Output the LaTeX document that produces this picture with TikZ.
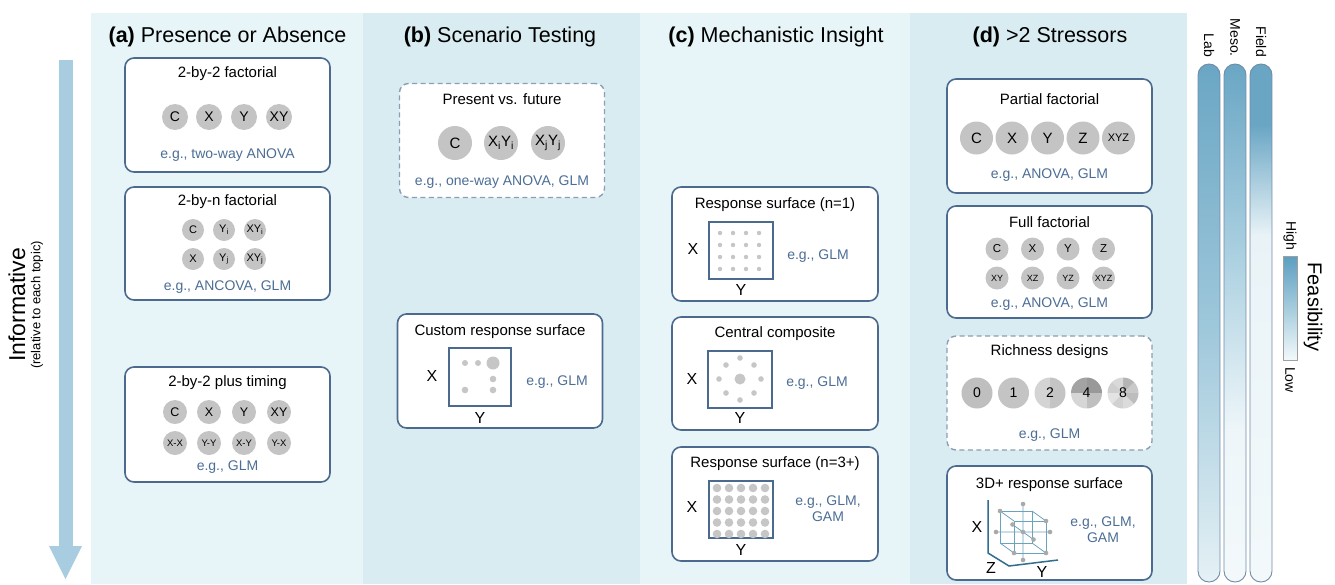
\documentclass[tikz,border=0pt]{standalone}
\usepackage{fontspec}
\setmainfont{Liberation Sans}
\newcommand\myfs[1]{\fontsize{#1}{#1}\selectfont}
\definecolor{panelL}{HTML}{E7F5F8}
\definecolor{panelD}{HTML}{D9ECF2}
\definecolor{boxc}{HTML}{4B6A8D}
\definecolor{dashc}{HTML}{8B9EB4}
\definecolor{egc}{HTML}{4C6E96}
\definecolor{circg}{HTML}{C4C4C4}
\definecolor{dotg}{HTML}{C6C6C6}
\definecolor{arrowc}{HTML}{A9CDE0}
\definecolor{cubec}{HTML}{6AA3BD}
\definecolor{axisc}{HTML}{2F6E8E}
\definecolor{barl}{HTML}{6F8BA8}
\definecolor{feasD}{HTML}{6AA6C4}
\definecolor{labM}{HTML}{9FC8DB}
\definecolor{labB}{HTML}{E5F1F5}
\definecolor{mesoM}{HTML}{A9CFE0}
\definecolor{mesoP}{HTML}{EEF6F9}
\definecolor{paleB}{HTML}{F3F9FB}
\definecolor{fieldP}{HTML}{E9F3F7}
\definecolor{legD}{HTML}{5C9EC0}
\definecolor{legM}{HTML}{A5CCDD}
\definecolor{cubedot}{HTML}{A9A9A9}
\definecolor{legline}{HTML}{A0A0A0}
\begin{document}
\begin{tikzpicture}[x=1pt,y=-1pt,
  box/.style={draw=boxc, line width=1.6pt, rounded corners=9pt, fill=white, minimum width=205pt, minimum height=114pt, inner sep=0},
  dbox/.style={draw=dashc, line width=1.4pt, dash pattern=on 5pt off 3.5pt, rounded corners=9pt, fill=white, minimum width=205pt, minimum height=114pt, inner sep=0},
  ttl/.style={font=\myfs{15}, inner sep=0},
  eg/.style={text=egc, font=\myfs{14}, inner sep=0, align=center},
  trt/.style={circle, fill=circg, inner sep=0, minimum size=#1},
  hdr/.style={font=\myfs{21.5}, inner sep=0},
  axl/.style={font=\myfs{16}, inner sep=0},
  sq/.style={draw=boxc, line width=1.6pt, fill=white, inner sep=0},
  pienum/.style={font=\myfs{14}, inner sep=0},
  barlab/.style={rotate=-90, anchor=east, font=\myfs{14}, inner sep=0}]
\useasboundingbox (0,0) rectangle (1335,584);
\fill[white] (0,0) rectangle (1335,584);
% panels
\fill[panelL] (91,13) rectangle (363,584);
\fill[panelD] (363,13) rectangle (640,584);
\fill[panelL] (640,13) rectangle (910,584);
\fill[panelD] (910,13) rectangle (1187,584);
% informative arrow
\fill[arrowc] (58.5,60) rectangle (72.5,548);
\fill[arrowc] (49,546) -- (82,546) -- (65.5,579) -- cycle;
\node[rotate=90, font=\myfs{23}, inner sep=0] (inf) at (17,305) {Informative};
\node[rotate=90, font=\myfs{13}, inner sep=0] (rel) at (37,305) {(relative to each topic)};
% headers
\node[hdr] (ha) at (227.5,37) {\textbf{(a)} Presence or Absence};
\node[hdr] (hb) at (500,37) {\textbf{(b)} Scenario Testing};
\node[hdr] (hc) at (776,37) {\textbf{(c)} Mechanistic Insight};
\node[hdr] (hd) at (1050,37) {\textbf{(d)} >2 Stressors};
% ---------- panel a
\node[box] (a1) at (227.5,115) {};
\node[ttl] (a1t) at (227.5,74) {2-by-2 factorial};
\foreach \x/\l/\n in {175/C/1,209/X/2,244/Y/3,279/XY/4}
  \node[trt=26pt, font=\myfs{14}] (a1c\n) at (\x,117) {\l};
\node[eg] (a1e) at (227.5,155) {e.g., two-way ANOVA};
\node[box, minimum height=113pt] (a2) at (227.5,243.5) {};
\node[ttl] (a2t) at (227.5,202) {2-by-n factorial};
\node[trt=22pt, font=\myfs{11}] (a2c1) at (193,230) {C};
\node[trt=22pt, font=\myfs{11}] (a2c2) at (224,230) {Y\textsubscript{i}};
\node[trt=22pt, font=\myfs{11}] (a2c3) at (255,230) {XY\textsubscript{i}};
\node[trt=22pt, font=\myfs{11}] (a2c4) at (193,259) {X};
\node[trt=22pt, font=\myfs{11}] (a2c5) at (224,259) {Y\textsubscript{j}};
\node[trt=22pt, font=\myfs{11}] (a2c6) at (255,259) {XY\textsubscript{j}};
\node[eg] (a2e) at (227.5,287) {e.g., ANCOVA, GLM};
\node[box, minimum height=115pt] (a3) at (227.5,424.5) {};
\node[ttl] (a3t) at (227.5,383) {2-by-2 plus timing};
\foreach \x/\l/\n in {175/C/1,209/X/2,244/Y/3,279/XY/4}
  \node[trt=24pt, font=\myfs{12.5}] (a3c\n) at (\x,412) {\l};
\foreach \x/\l/\n in {175/X-X/5,209/Y-Y/6,244/X-Y/7,279/Y-X/8}
  \node[trt=24pt, font=\myfs{9.5}] (a3c\n) at (\x,443) {\l};
\node[eg] (a3e) at (227.5,467) {e.g., GLM};
% ---------- panel b
\node[dbox] (b1) at (502,140.5) {};
\node[ttl] (b1t) at (502,99) {Present vs. future};
\node[trt=34pt, font=\myfs{15}] (b1c1) at (455,143) {C};
\node[trt=34pt, font=\myfs{15}] (b1c2) at (501,143) {X\textsubscript{i}Y\textsubscript{i}};
\node[trt=34pt, font=\myfs{15}] (b1c3) at (548,143) {X\textsubscript{j}Y\textsubscript{j}};
\node[eg] (b1e) at (502,182) {e.g., one-way ANOVA, GLM};
\node[box] (b2) at (500,371) {};
\node[ttl] (b2t) at (500,332) {Custom response surface};
\node[sq, minimum width=62pt, minimum height=58pt] (b2s) at (480,377) {};
\node[axl] (b2x) at (432,376) {X};
\node[axl] (b2y) at (480,418) {Y};
\fill[dotg] (465,363) circle[radius=3];
\fill[dotg] (478,363) circle[radius=3];
\fill[dotg] (493,363) circle[radius=6.5];
\fill[dotg] (493,379) circle[radius=3.3];
\fill[dotg] (465,390) circle[radius=3.3];
\fill[dotg] (493,390) circle[radius=3.3];
\node[eg] (b2e) at (557,382) {e.g., GLM};
% ---------- panel c
\node[box, minimum width=206pt] (c1) at (775,244) {};
\node[ttl] (c1t) at (775,205) {Response surface (n=1)};
\node[sq, minimum width=64pt, minimum height=57pt] (c1s) at (741,250.5) {};
\foreach \i in {720,733,746,759} \foreach \j in {233,245,257,269}
  \fill[dotg] (\i,\j) circle[radius=2.2];
\node[axl] (c1x) at (693,249) {X};
\node[axl] (c1y) at (741,290) {Y};
\node[eg] (c1e) at (818,256) {e.g., GLM};
\node[box, minimum width=206pt, minimum height=113pt] (c2) at (775,373.5) {};
\node[ttl] (c2t) at (775,334) {Central composite};
\node[sq, minimum width=64pt, minimum height=57pt] (c2s) at (740,379.5) {};
\fill[dotg] (740,379) circle[radius=5.5];
\foreach \p in {(740,358),(740,400),(719,379),(761,379),(726,365),(754,365),(726,393),(754,393)}
  \fill[dotg] \p circle[radius=2.8];
\node[axl] (c2x) at (692,379) {X};
\node[axl] (c2y) at (740,418) {Y};
\node[eg] (c2e) at (817,383) {e.g., GLM};
\node[box, minimum width=206pt] (c3) at (775,504) {};
\node[ttl] (c3t) at (775,464) {Response surface (n=3+)};
\node[sq, minimum width=64pt, minimum height=57pt] (c3s) at (741,509.5) {};
\foreach \i in {717,729,741,753,765} \foreach \j in {488,499.5,511,522.5,534}
  \fill[dotg] (\i,\j) circle[radius=4.3];
\node[axl] (c3x) at (692,507) {X};
\node[axl] (c3y) at (741,550) {Y};
\node[eg, font=\fontsize{14}{16}\selectfont] (c3e) at (828,509) {e.g., GLM,\\GAM};
% ---------- panel d
\node[box] (d1) at (1049.5,136) {};
\node[ttl] (d1t) at (1049.5,99) {Partial factorial};
\foreach \x/\l/\n in {976.5/C/1,1012/X/2,1047.5/Y/3,1083/Z/4}
  \node[trt=33pt, font=\myfs{15}] (d1c\n) at (\x,138) {\l};
\node[trt=33pt, font=\myfs{11}] (d1c5) at (1118.5,138) {XYZ};
\node[eg] (d1e) at (1049.5,175) {e.g., ANOVA, GLM};
\node[box, minimum height=112pt] (d2) at (1049.5,262) {};
\node[ttl] (d2t) at (1049.5,222) {Full factorial};
\foreach \x/\l/\n in {997/C/1,1032.5/X/2,1068/Y/3,1103.5/Z/4}
  \node[trt=23pt, font=\myfs{11.5}] (d2c\n) at (\x,249) {\l};
\foreach \x/\l/\n in {997/XY/5,1032.5/XZ/6,1068/YZ/7,1103.5/XYZ/8}
  \node[trt=23pt, font=\myfs{9}] (d2c\n) at (\x,278) {\l};
\node[eg] (d2e) at (1049.5,304) {e.g., ANOVA, GLM};
\node[dbox] (d3) at (1049.5,393) {};
\node[ttl] (d3t) at (1049.5,352) {Richness designs};
% pies
\fill[black!25] (977,393) circle[radius=15.5];
\fill[black!23] (1013.5,393) circle[radius=15.5];
\begin{scope}
\clip (1050,393) circle[radius=15.5];
\fill[black!17] (1030,370) rectangle (1050,416);
\fill[black!23] (1050,370) rectangle (1070,416);
\end{scope}
\begin{scope}
\clip (1086.5,393) circle[radius=15.5];
\fill[black!36] (1066,370) rectangle (1086.5,393);
\fill[black!40] (1086.5,370) rectangle (1107,393);
\fill[black!16] (1066,393) rectangle (1086.5,416);
\fill[black!25] (1086.5,393) rectangle (1107,416);
\end{scope}
\begin{scope}
\clip (1123,393) circle[radius=15.5];
\foreach \a/\c in {0/21,45/29,90/15,135/19,180/11,225/18,270/14,315/26}
  \fill[black!\c] (1123,393) -- +(\a:25pt) -- +(\a+45:25pt) -- cycle;
\end{scope}
\node[pienum] (p0) at (977,393) {0};
\node[pienum] (p1) at (1013.5,393) {1};
\node[pienum] (p2) at (1050,393) {2};
\node[pienum] (p4) at (1086.5,393) {4};
\node[pienum] (p8) at (1123,393) {8};
\node[eg] (d3e) at (1049.5,435) {e.g., GLM};
\node[box] (d4) at (1049.5,523) {};
\node[ttl] (d4t) at (1049.5,485) {3D+ response surface};
\begin{scope}[cubec, line width=0.8pt]
\draw (1000,511) -- (1032,511) -- (1032,543) -- (1000,543) -- cycle;
\draw (1014,521) -- (1046,521) -- (1046,553) -- (1014,553) -- cycle;
\draw (1000,511) -- (1014,521) (1032,511) -- (1046,521) (1032,543) -- (1046,553) (1000,543) -- (1014,553);
\draw (996,532) -- (1050,532) (1023,504) -- (1023,560) (1012.5,524.5) -- (1033.5,539.5);
\end{scope}
\foreach \p in {(1000,511),(1046,521),(1014,553),(1046,553),(996,532),(1050,532),(1023,504),(1023,560),(1012.5,524.5),(1033.5,539.5),(1023,532)}
  \fill[cubedot] \p circle[radius=2.3];
\draw[axisc, line width=1.5pt] (988,500) -- (988,553) -- (1009,566) -- (1058,560);
\node[axl] (d4x) at (977,527) {X};
\node[axl] (d4z) at (991,568) {Z};
\node[axl] (d4y) at (1042,572) {Y};
\node[eg, font=\fontsize{14}{16}\selectfont] (d4e) at (1103,530) {e.g., GLM,\\GAM};
% ---------- feasibility bars
\begin{scope}
\clip[rounded corners=11pt] (1198,64) rectangle (1220,582);
\shade[top color=feasD, bottom color=labM] (1198,64) rectangle (1220,331);
\shade[top color=labM, bottom color=labB] (1198,330) rectangle (1220,582);
\end{scope}
\draw[barl, line width=0.9pt, rounded corners=11pt] (1198,64) rectangle (1220,582);
\begin{scope}
\clip[rounded corners=11pt] (1224,64) rectangle (1246,582);
\shade[top color=feasD, bottom color=mesoM] (1224,64) rectangle (1246,251);
\shade[top color=mesoM, bottom color=mesoP] (1224,250) rectangle (1246,431);
\shade[top color=mesoP, bottom color=paleB] (1224,430) rectangle (1246,582);
\end{scope}
\draw[barl, line width=0.9pt, rounded corners=11pt] (1224,64) rectangle (1246,582);
\begin{scope}
\clip[rounded corners=11pt] (1250,64) rectangle (1272,582);
\fill[feasD] (1250,64) rectangle (1272,126);
\shade[top color=feasD, bottom color=fieldP] (1250,125) rectangle (1272,236);
\shade[top color=fieldP, bottom color=paleB] (1250,235) rectangle (1272,582);
\end{scope}
\draw[barl, line width=0.9pt, rounded corners=11pt] (1250,64) rectangle (1272,582);
\node[barlab] (lab) at (1209,57) {Lab};
\node[barlab] (meso) at (1235,57) {Meso.};
\node[barlab] (field) at (1261,57) {Field};
% legend
\shade[top color=legD, bottom color=paleB, middle color=legM] (1283,256) rectangle (1297,360);
\draw[legline, line width=0.6pt] (1283,256) rectangle (1297,360);
\node[rotate=-90, anchor=east, font=\myfs{14}, inner sep=0] (high) at (1290,250) {High};
\node[rotate=-90, anchor=west, font=\myfs{14}, inner sep=0] (low) at (1290,367) {Low};
\node[rotate=-90, font=\myfs{20}, inner sep=0] (feas) at (1313,307) {Feasibility};
\end{tikzpicture}
\end{document}
